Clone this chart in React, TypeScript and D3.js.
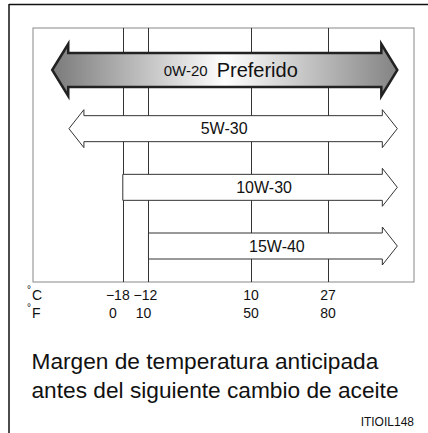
import React from 'react';
import * as d3 from 'd3';

// oil grades and their temperature span (°F)
const grades = ['0W-20', '5W-30', '10W-30', '15W-40'];
const lowF = [-27.5, -21, 0, 10];
const highF = [107, 107, 107, 107];
const openLow = [true, true, false, false];
const preferred = [true, false, false, false];

// axis ticks
const tickF = [0, 10, 50, 80];
const tickC = ['\u221218', '\u221212', '10', '27'];
const tickFLabels = ['0', '10', '50', '80'];

const captionLines = ['Margen de temperatura anticipada', 'antes del siguiente cambio de aceite'];
const code = 'ITIOIL148';

const W = 428;
const H = 433;
const plot = { left: 33, right: 414, top: 28, bottom: 282 };
const font = 'Liberation Sans, Arial, sans-serif';

function arrowPath(x0: number, x1: number, cy: number, body: number, head: number, hl: number, leftHead: boolean) {
  const p = d3.path();
  if (leftHead) {
    p.moveTo(x0, cy);
    p.lineTo(x0 + hl, cy - head);
    p.lineTo(x0 + hl, cy - body);
  } else {
    p.moveTo(x0, cy - body);
  }
  p.lineTo(x1 - hl, cy - body);
  p.lineTo(x1 - hl, cy - head);
  p.lineTo(x1, cy);
  p.lineTo(x1 - hl, cy + head);
  p.lineTo(x1 - hl, cy + body);
  if (leftHead) {
    p.lineTo(x0 + hl, cy + body);
    p.lineTo(x0 + hl, cy + head);
  } else {
    p.lineTo(x0, cy + body);
  }
  p.closePath();
  return p.toString();
}

export default function App() {
  const x = d3.scaleLinear().domain([-35, 113.5]).range([plot.left, plot.right]);
  const y = d3.scalePoint<string>().domain(grades).range([70, 246]);

  return (
    <svg width={W} height={H} style={{ position: 'absolute', left: 0, top: 0, background: '#fff' }} fontFamily={font}>
      <defs>
        <linearGradient id="pref" gradientUnits="userSpaceOnUse" x1={x(lowF[0])} x2={x(highF[0])} y1={0} y2={0}>
          <stop offset="0" stopColor="#7a7a7a" />
          <stop offset="0.5" stopColor="#ffffff" />
          <stop offset="1" stopColor="#838383" />
        </linearGradient>
      </defs>
      {/* page corner frame */}
      <line x1={9} x2={W} y1={4.5} y2={4.5} stroke="#111" strokeWidth={1.5} />
      <line x1={9} x2={9} y1={4} y2={H} stroke="#111" strokeWidth={1.5} />

      <rect x={plot.left} y={plot.top} width={plot.right - plot.left} height={plot.bottom - plot.top}
        fill="none" stroke="#888" strokeWidth={1} />
      {tickF.map((f) => (
        <line key={f} x1={Math.round(x(f)) + 0.5} x2={Math.round(x(f)) + 0.5} y1={plot.top} y2={plot.bottom}
          stroke="#333" strokeWidth={1} />
      ))}

      {grades.map((g, i) => {
        const cy = y(g) as number;
        const pref = preferred[i];
        const x0 = x(lowF[i]);
        const x1 = x(highF[i]);
        const d = arrowPath(x0, x1, cy, pref ? 17 : 13, pref ? 26 : 19, pref ? 16 : 15, openLow[i]);
        return (
          <g key={g}>
            <path d={d} fill={pref ? 'url(#pref)' : '#fff'} stroke={pref ? '#222' : '#333'}
              strokeWidth={pref ? 2.5 : 1} strokeLinejoin="miter" />
            {pref ? (
              <text x={(x0 + x1) / 2 + 6} y={cy} dominantBaseline="central" textAnchor="middle" fill="#111">
                <tspan fontSize={15}>{g}</tspan>
                <tspan fontSize={20} dx={9}>Preferido</tspan>
              </text>
            ) : (
              <text x={(x0 + x1) / 2 + (i === 1 ? -9 : 4)} y={cy} dominantBaseline="central" textAnchor="middle" fontSize={16} fill="#111">
                {g}
              </text>
            )}
          </g>
        );
      })}

      {/* temperature scale */}
      <g fontSize={14} fill="#111">
        <text x={27} y={293} fontSize={10}>°</text>
        <text x={32} y={295} dominantBaseline="central">C</text>
        <text x={27} y={311} fontSize={10}>°</text>
        <text x={32} y={313} dominantBaseline="central">F</text>
        {tickF.map((f, i) => (
          <text key={'c' + f} x={x(f) + (i === 0 ? -5 : i === 1 ? -3 : 0)} y={295}
            dominantBaseline="central" textAnchor="middle">{tickC[i]}</text>
        ))}
        {tickF.map((f, i) => (
          <text key={'f' + f} x={x(f) + (i === 0 ? -10 : i === 1 ? -5 : 0)} y={313}
            dominantBaseline="central" textAnchor="middle">{tickFLabels[i]}</text>
        ))}
      </g>

      {captionLines.map((t, i) => (
        <text key={t} x={31.5} y={369 + i * 29} fontSize={22.7} fill="#111">{t}</text>
      ))}
      <text x={414} y={426} textAnchor="end" fontSize={12} fill="#111">{code}</text>
    </svg>
  );
}
